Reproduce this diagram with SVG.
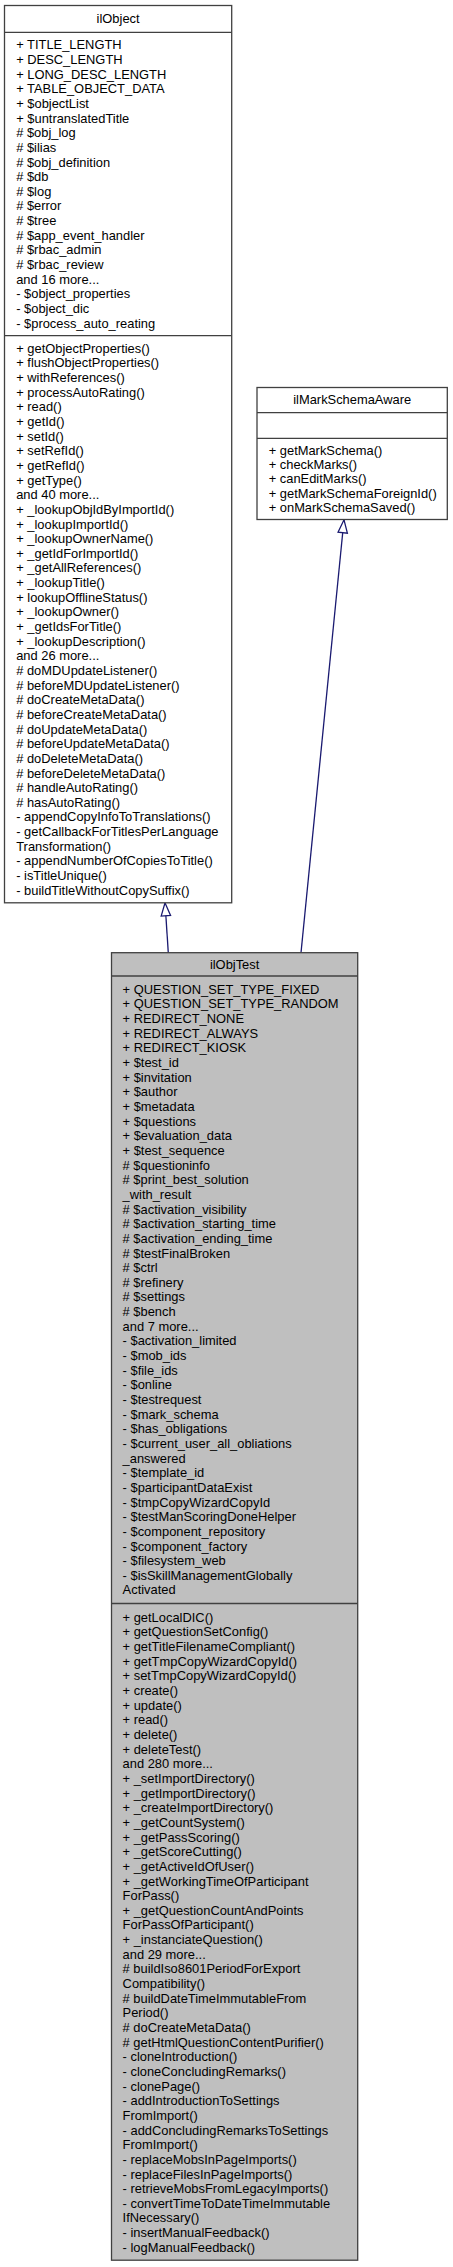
<svg xmlns="http://www.w3.org/2000/svg" width="453" height="2267" viewBox="0 0 453 2267">
<style>
.box{stroke:#404040;stroke-width:1.3}
.w{fill:#fff}
.g{fill:#bfbfbf}
.sep{stroke:#404040;stroke-width:1.3;fill:none}
text{font-family:"Liberation Sans",Arial,Helvetica,sans-serif;font-size:12.9px;fill:#000}
.t{text-anchor:middle}
.edge{stroke:#191970;stroke-width:1.3;fill:none}
</style>
<defs>
<marker id="inh" viewBox="0 0 14 10" markerWidth="14" markerHeight="10" refX="13.6" refY="5" orient="auto" markerUnits="userSpaceOnUse" overflow="visible">
<path d="M0.6,0.3 L13.6,5 L0.6,9.7 Z" fill="#fff" stroke="#191970" stroke-width="1.3"/>
</marker>
</defs>
<rect width="453" height="2267" fill="#fff"/>
<g id="connectors">
<path class="edge" d="M168.3,952.7 L165,902.8" marker-end="url(#inh)"/>
<path class="edge" d="M301,952.7 L344,519.8" marker-end="url(#inh)"/>
</g>
<g id="ilObject">
<rect class="box w" x="4.5" y="5.5" width="227.2" height="897.3"/>
<line class="sep" x1="4.5" y1="32.3" x2="231.7" y2="32.3"/>
<line class="sep" x1="4.5" y1="335.7" x2="231.7" y2="335.7"/>
<text class="t" x="118.1" y="22.8">ilObject</text>
<text x="16.2" y="49.3"><tspan x="16.2" dy="0">+ TITLE_LENGTH</tspan><tspan x="16.2" dy="14.65">+ DESC_LENGTH</tspan><tspan x="16.2" dy="14.65">+ LONG_DESC_LENGTH</tspan><tspan x="16.2" dy="14.65">+ TABLE_OBJECT_DATA</tspan><tspan x="16.2" dy="14.65">+ $objectList</tspan><tspan x="16.2" dy="14.65">+ $untranslatedTitle</tspan><tspan x="16.2" dy="14.65"># $obj_log</tspan><tspan x="16.2" dy="14.65"># $ilias</tspan><tspan x="16.2" dy="14.65"># $obj_definition</tspan><tspan x="16.2" dy="14.65"># $db</tspan><tspan x="16.2" dy="14.65"># $log</tspan><tspan x="16.2" dy="14.65"># $error</tspan><tspan x="16.2" dy="14.65"># $tree</tspan><tspan x="16.2" dy="14.65"># $app_event_handler</tspan><tspan x="16.2" dy="14.65"># $rbac_admin</tspan><tspan x="16.2" dy="14.65"># $rbac_review</tspan><tspan x="16.2" dy="14.65">and 16 more...</tspan><tspan x="16.2" dy="14.65">- $object_properties</tspan><tspan x="16.2" dy="14.65">- $object_dic</tspan><tspan x="16.2" dy="14.65">- $process_auto_reating</tspan></text>
<text x="16.2" y="352.7"><tspan x="16.2" dy="0">+ getObjectProperties()</tspan><tspan x="16.2" dy="14.65">+ flushObjectProperties()</tspan><tspan x="16.2" dy="14.65">+ withReferences()</tspan><tspan x="16.2" dy="14.65">+ processAutoRating()</tspan><tspan x="16.2" dy="14.65">+ read()</tspan><tspan x="16.2" dy="14.65">+ getId()</tspan><tspan x="16.2" dy="14.65">+ setId()</tspan><tspan x="16.2" dy="14.65">+ setRefId()</tspan><tspan x="16.2" dy="14.65">+ getRefId()</tspan><tspan x="16.2" dy="14.65">+ getType()</tspan><tspan x="16.2" dy="14.65">and 40 more...</tspan><tspan x="16.2" dy="14.65">+ _lookupObjIdByImportId()</tspan><tspan x="16.2" dy="14.65">+ _lookupImportId()</tspan><tspan x="16.2" dy="14.65">+ _lookupOwnerName()</tspan><tspan x="16.2" dy="14.65">+ _getIdForImportId()</tspan><tspan x="16.2" dy="14.65">+ _getAllReferences()</tspan><tspan x="16.2" dy="14.65">+ _lookupTitle()</tspan><tspan x="16.2" dy="14.65">+ lookupOfflineStatus()</tspan><tspan x="16.2" dy="14.65">+ _lookupOwner()</tspan><tspan x="16.2" dy="14.65">+ _getIdsForTitle()</tspan><tspan x="16.2" dy="14.65">+ _lookupDescription()</tspan><tspan x="16.2" dy="14.65">and 26 more...</tspan><tspan x="16.2" dy="14.65"># doMDUpdateListener()</tspan><tspan x="16.2" dy="14.65"># beforeMDUpdateListener()</tspan><tspan x="16.2" dy="14.65"># doCreateMetaData()</tspan><tspan x="16.2" dy="14.65"># beforeCreateMetaData()</tspan><tspan x="16.2" dy="14.65"># doUpdateMetaData()</tspan><tspan x="16.2" dy="14.65"># beforeUpdateMetaData()</tspan><tspan x="16.2" dy="14.65"># doDeleteMetaData()</tspan><tspan x="16.2" dy="14.65"># beforeDeleteMetaData()</tspan><tspan x="16.2" dy="14.65"># handleAutoRating()</tspan><tspan x="16.2" dy="14.65"># hasAutoRating()</tspan><tspan x="16.2" dy="14.65">- appendCopyInfoToTranslations()</tspan><tspan x="16.2" dy="14.65">- getCallbackForTitlesPerLanguage</tspan><tspan x="16.2" dy="14.65">Transformation()</tspan><tspan x="16.2" dy="14.65">- appendNumberOfCopiesToTitle()</tspan><tspan x="16.2" dy="14.65">- isTitleUnique()</tspan><tspan x="16.2" dy="14.65">- buildTitleWithoutCopySuffix()</tspan></text>
</g>
<g id="ilMarkSchemaAware">
<rect class="box w" x="257" y="387.5" width="190.3" height="132"/>
<line class="sep" x1="257" y1="412.7" x2="447.3" y2="412.7"/>
<line class="sep" x1="257" y1="438.3" x2="447.3" y2="438.3"/>
<text class="t" x="352.2" y="403.8">ilMarkSchemaAware</text>
<text x="268.7" y="454.5"><tspan x="268.7" dy="0">+ getMarkSchema()</tspan><tspan x="268.7" dy="14.4">+ checkMarks()</tspan><tspan x="268.7" dy="14.4">+ canEditMarks()</tspan><tspan x="268.7" dy="14.4">+ getMarkSchemaForeignId()</tspan><tspan x="268.7" dy="14.4">+ onMarkSchemaSaved()</tspan></text>
</g>
<g id="ilObjTest">
<rect class="box g" x="111.5" y="952.7" width="246.2" height="1307.5"/>
<line class="sep" x1="111.5" y1="976" x2="357.7" y2="976"/>
<line class="sep" x1="111.5" y1="1603.5" x2="357.7" y2="1603.5"/>
<text class="t" x="234.6" y="968.8">ilObjTest</text>
<text x="122.6" y="993.8"><tspan x="122.6" dy="0">+ QUESTION_SET_TYPE_FIXED</tspan><tspan x="122.6" dy="14.65">+ QUESTION_SET_TYPE_RANDOM</tspan><tspan x="122.6" dy="14.65">+ REDIRECT_NONE</tspan><tspan x="122.6" dy="14.65">+ REDIRECT_ALWAYS</tspan><tspan x="122.6" dy="14.65">+ REDIRECT_KIOSK</tspan><tspan x="122.6" dy="14.65">+ $test_id</tspan><tspan x="122.6" dy="14.65">+ $invitation</tspan><tspan x="122.6" dy="14.65">+ $author</tspan><tspan x="122.6" dy="14.65">+ $metadata</tspan><tspan x="122.6" dy="14.65">+ $questions</tspan><tspan x="122.6" dy="14.65">+ $evaluation_data</tspan><tspan x="122.6" dy="14.65">+ $test_sequence</tspan><tspan x="122.6" dy="14.65"># $questioninfo</tspan><tspan x="122.6" dy="14.65"># $print_best_solution</tspan><tspan x="122.6" dy="14.65">_with_result</tspan><tspan x="122.6" dy="14.65"># $activation_visibility</tspan><tspan x="122.6" dy="14.65"># $activation_starting_time</tspan><tspan x="122.6" dy="14.65"># $activation_ending_time</tspan><tspan x="122.6" dy="14.65"># $testFinalBroken</tspan><tspan x="122.6" dy="14.65"># $ctrl</tspan><tspan x="122.6" dy="14.65"># $refinery</tspan><tspan x="122.6" dy="14.65"># $settings</tspan><tspan x="122.6" dy="14.65"># $bench</tspan><tspan x="122.6" dy="14.65">and 7 more...</tspan><tspan x="122.6" dy="14.65">- $activation_limited</tspan><tspan x="122.6" dy="14.65">- $mob_ids</tspan><tspan x="122.6" dy="14.65">- $file_ids</tspan><tspan x="122.6" dy="14.65">- $online</tspan><tspan x="122.6" dy="14.65">- $testrequest</tspan><tspan x="122.6" dy="14.65">- $mark_schema</tspan><tspan x="122.6" dy="14.65">- $has_obligations</tspan><tspan x="122.6" dy="14.65">- $current_user_all_obliations</tspan><tspan x="122.6" dy="14.65">_answered</tspan><tspan x="122.6" dy="14.65">- $template_id</tspan><tspan x="122.6" dy="14.65">- $participantDataExist</tspan><tspan x="122.6" dy="14.65">- $tmpCopyWizardCopyId</tspan><tspan x="122.6" dy="14.65">- $testManScoringDoneHelper</tspan><tspan x="122.6" dy="14.65">- $component_repository</tspan><tspan x="122.6" dy="14.65">- $component_factory</tspan><tspan x="122.6" dy="14.65">- $filesystem_web</tspan><tspan x="122.6" dy="14.65">- $isSkillManagementGlobally</tspan><tspan x="122.6" dy="14.65">Activated</tspan></text>
<text x="122.6" y="1621.8"><tspan x="122.6" dy="0">+ getLocalDIC()</tspan><tspan x="122.6" dy="14.65">+ getQuestionSetConfig()</tspan><tspan x="122.6" dy="14.65">+ getTitleFilenameCompliant()</tspan><tspan x="122.6" dy="14.65">+ getTmpCopyWizardCopyId()</tspan><tspan x="122.6" dy="14.65">+ setTmpCopyWizardCopyId()</tspan><tspan x="122.6" dy="14.65">+ create()</tspan><tspan x="122.6" dy="14.65">+ update()</tspan><tspan x="122.6" dy="14.65">+ read()</tspan><tspan x="122.6" dy="14.65">+ delete()</tspan><tspan x="122.6" dy="14.65">+ deleteTest()</tspan><tspan x="122.6" dy="14.65">and 280 more...</tspan><tspan x="122.6" dy="14.65">+ _setImportDirectory()</tspan><tspan x="122.6" dy="14.65">+ _getImportDirectory()</tspan><tspan x="122.6" dy="14.65">+ _createImportDirectory()</tspan><tspan x="122.6" dy="14.65">+ _getCountSystem()</tspan><tspan x="122.6" dy="14.65">+ _getPassScoring()</tspan><tspan x="122.6" dy="14.65">+ _getScoreCutting()</tspan><tspan x="122.6" dy="14.65">+ _getActiveIdOfUser()</tspan><tspan x="122.6" dy="14.65">+ _getWorkingTimeOfParticipant</tspan><tspan x="122.6" dy="14.65">ForPass()</tspan><tspan x="122.6" dy="14.65">+ _getQuestionCountAndPoints</tspan><tspan x="122.6" dy="14.65">ForPassOfParticipant()</tspan><tspan x="122.6" dy="14.65">+ _instanciateQuestion()</tspan><tspan x="122.6" dy="14.65">and 29 more...</tspan><tspan x="122.6" dy="14.65"># buildIso8601PeriodForExport</tspan><tspan x="122.6" dy="14.65">Compatibility()</tspan><tspan x="122.6" dy="14.65"># buildDateTimeImmutableFrom</tspan><tspan x="122.6" dy="14.65">Period()</tspan><tspan x="122.6" dy="14.65"># doCreateMetaData()</tspan><tspan x="122.6" dy="14.65"># getHtmlQuestionContentPurifier()</tspan><tspan x="122.6" dy="14.65">- cloneIntroduction()</tspan><tspan x="122.6" dy="14.65">- cloneConcludingRemarks()</tspan><tspan x="122.6" dy="14.65">- clonePage()</tspan><tspan x="122.6" dy="14.65">- addIntroductionToSettings</tspan><tspan x="122.6" dy="14.65">FromImport()</tspan><tspan x="122.6" dy="14.65">- addConcludingRemarksToSettings</tspan><tspan x="122.6" dy="14.65">FromImport()</tspan><tspan x="122.6" dy="14.65">- replaceMobsInPageImports()</tspan><tspan x="122.6" dy="14.65">- replaceFilesInPageImports()</tspan><tspan x="122.6" dy="14.65">- retrieveMobsFromLegacyImports()</tspan><tspan x="122.6" dy="14.65">- convertTimeToDateTimeImmutable</tspan><tspan x="122.6" dy="14.65">IfNecessary()</tspan><tspan x="122.6" dy="14.65">- insertManualFeedback()</tspan><tspan x="122.6" dy="14.65">- logManualFeedback()</tspan></text>
</g>
</svg>
